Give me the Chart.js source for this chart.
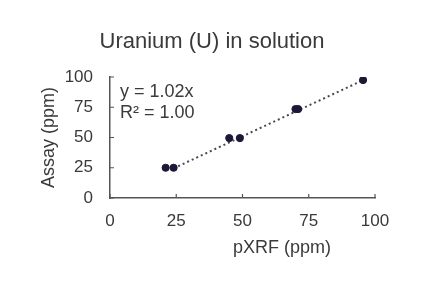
<!DOCTYPE html>
<html>
<head>
<meta charset="utf-8">
<script src="https://cdn.jsdelivr.net/npm/chart.js@4"></script>
<style>
  html, body { margin: 0; padding: 0; background: #fff; }
  #wrap { width: 427px; height: 286px; }
</style>
</head>
<body>
<div id="wrap"><canvas id="myChart" width="427" height="286"></canvas></div>
<script>
// values
const pxrf = [21, 24, 45, 49, 70, 71, 95.5];
const assay = [25, 25, 49.5, 49.5, 73.5, 73.5, 97.5];
const trendX = [24, 96];
const trendY = [24.5, 97.9];
const axisTicks = [0, 25, 50, 75, 100];
const fitLines = ['y = 1.02x', 'R\u00b2 = 1.00'];

const textColor = '#3a3a3a';
const axisColor = '#555';
const font = 'Liberation Sans, Arial, sans-serif';

const points = pxrf.map((x, i) => ({ x: x, y: assay[i] }));
const trend = trendX.map((x, i) => ({ x: x, y: trendY[i] }));

// small tick marks pointing into the plot, plus the extra texts
const extras = {
    id: 'extras',
    afterDraw(chart) {
        const ctx = chart.ctx;
        const xs = chart.scales.x, ys = chart.scales.y;
        const area = chart.chartArea;
        ctx.save();
        ctx.strokeStyle = axisColor;
        ctx.lineWidth = 1.2;
        ctx.beginPath();
        axisTicks.forEach(v => {
            let px = xs.getPixelForValue(v);
            ctx.moveTo(px, area.bottom);
            ctx.lineTo(px, area.bottom - 4);
            let py = ys.getPixelForValue(v);
            ctx.moveTo(area.left, py);
            ctx.lineTo(area.left + 4, py);
        });
        ctx.stroke();

        ctx.fillStyle = textColor;
        ctx.textBaseline = 'middle';

        // chart title, centred on the whole picture
        ctx.font = '22px ' + font;
        ctx.textAlign = 'center';
        ctx.fillText('Uranium (U) in solution', 212, 42);

        ctx.font = '18px ' + font;
        ctx.fillText('pXRF (ppm)', 282, 248);

        ctx.textAlign = 'left';
        fitLines.forEach((t, i) => {
            ctx.fillText(t, area.left + 10, area.top + 15 + i * 21);
        });
        ctx.restore();
    }
};

new Chart('myChart', {
    type: 'scatter',
    data: {
        datasets: [{
            type: 'line',
            data: trend,
            borderColor: '#4a4a4a',
            borderWidth: 2,
            borderDash: [2, 3],
            pointRadius: 0,
            fill: false,
            order: 2
        }, {
            data: points,
            backgroundColor: '#1b1838',
            borderColor: '#1b1838',
            pointRadius: 3.6,
            order: 1
        }]
    },
    options: {
        responsive: false,
        animation: false,
        layout: { padding: { top: 77, left: 0, right: 52, bottom: 0 } },
        plugins: {
            legend: { display: false },
            tooltip: { enabled: false },
            title: { display: false }
        },
        scales: {
            x: {
                type: 'linear',
                min: 0,
                max: 100,
                afterFit(s) { s.height = 88; },
                afterBuildTicks(s) { s.ticks = axisTicks.map(v => ({ value: v })); },
                grid: { display: false, drawTicks: false },
                border: { display: true, color: axisColor, width: 1.5 },
                ticks: { color: textColor, font: { family: font, size: 17 }, padding: 13, maxRotation: 0 }
            },
            y: {
                type: 'linear',
                min: 0,
                max: 100,
                afterFit(s) { s.width = 110; },
                afterBuildTicks(s) { s.ticks = axisTicks.map(v => ({ value: v })); },
                grid: { display: false, drawTicks: false },
                border: { display: true, color: axisColor, width: 1.5 },
                ticks: { color: textColor, font: { family: font, size: 17 }, padding: 17 },
                title: {
                    display: true,
                    text: 'Assay (ppm)',
                    color: textColor,
                    font: { family: font, size: 18 },
                    padding: { top: 38, bottom: 0 }
                }
            }
        }
    },
    plugins: [extras]
});
</script>
</body>
</html>
